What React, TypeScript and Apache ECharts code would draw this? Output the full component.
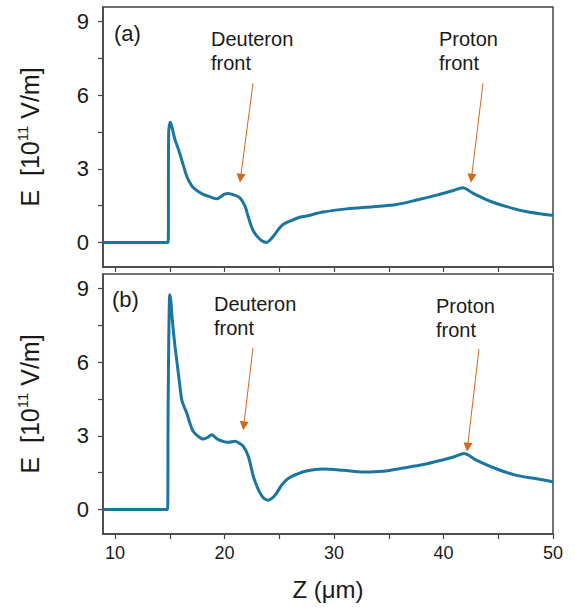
import React, { useEffect, useRef } from "react";
import * as echarts from "echarts";

const zA = [8.9, 14.85, 14.9, 15.05, 15.2, 15.48, 15.75, 16.0, 16.3, 16.55, 16.85, 17.15, 17.6, 18.06, 18.7, 19.28, 19.7, 20.0, 20.35, 20.9, 21.4, 21.87, 22.1, 22.33, 22.6, 22.94, 23.4, 23.85, 24.2, 24.6, 25.0, 25.37, 25.98, 26.74, 27.5, 29.0, 31.16, 33.59, 35.72, 37.55, 39.38, 40.9, 41.75, 42.72, 44.25, 45.77, 47.29, 49.1, 50];
const eA = [0, 0, 4.5, 4.9, 4.7, 4.18, 3.85, 3.5, 3.05, 2.7, 2.42, 2.23, 2.08, 1.96, 1.86, 1.78, 1.88, 1.97, 2.0, 1.93, 1.82, 1.48, 1.15, 0.81, 0.5, 0.27, 0.07, 0.0, 0.12, 0.34, 0.58, 0.74, 0.87, 1.01, 1.08, 1.24, 1.37, 1.46, 1.55, 1.73, 1.93, 2.12, 2.23, 2.0, 1.68, 1.46, 1.28, 1.15, 1.1];

const zB = [8.9, 14.8, 14.85, 15.0, 15.1, 15.18, 15.3, 15.48, 15.78, 16.09, 16.3, 16.55, 16.85, 17.15, 17.6, 18.06, 18.5, 18.83, 19.2, 19.59, 20.35, 20.96, 21.35, 21.72, 22.17, 22.63, 23.0, 23.24, 23.6, 24.0, 24.4, 24.77, 25.2, 25.68, 26.2, 26.74, 27.2, 28.0, 29.0, 30.85, 32.68, 34.5, 36.33, 38.16, 39.99, 41.0, 41.87, 43.03, 44.86, 46.68, 48.5, 50];
const eB = [0, 0, 4.3, 8.75, 8.5, 8.0, 7.4, 6.64, 5.56, 4.47, 4.2, 3.93, 3.5, 3.18, 2.98, 2.87, 2.95, 3.05, 2.92, 2.82, 2.74, 2.78, 2.7, 2.57, 2.17, 1.35, 0.9, 0.68, 0.45, 0.38, 0.48, 0.68, 0.98, 1.22, 1.36, 1.46, 1.54, 1.61, 1.65, 1.6, 1.53, 1.56, 1.69, 1.83, 2.03, 2.15, 2.28, 2.0, 1.65, 1.39, 1.25, 1.13];

const xLabels = [10, 20, 30, 40, 50];
const xTicks = [10, 15, 20, 25, 30, 35, 40, 45, 50];
const yLabels = [0, 3, 6, 9];
const yTicks = [0, 1.5, 3, 4.5, 6, 7.5, 9];

// arrows: [startZ, startE, endZ, endE]
const arrowsA = [
  [22.6, 6.49, 21.46, 2.62],
  [43.61, 6.49, 42.55, 2.62],
];
const arrowsB = [
  [22.6, 6.59, 21.75, 3.41],
  [43.24, 6.54, 42.19, 2.54],
];

const FONT = "'Liberation Sans', Arial, sans-serif";
const LINE = "#1a76a1";
const ARROW = "#d2691e";
const AXIS = "#444";
const TXT = "#1a1a1a";

export default function App() {
  const ref = useRef<HTMLDivElement>(null);
  useEffect(() => {
    if (!ref.current) return;
    const chart = echarts.init(ref.current, undefined, { renderer: "svg" });
    const grids = [
      { left: 103, top: 7, width: 450, height: 260 },
      { left: 103, top: 274, width: 450, height: 260 },
    ];
    const mkX = (i: number, showLabel: boolean) => ({
      type: "value",
      gridIndex: i,
      min: 8.9,
      max: 50,
      axisLine: { show: true, onZero: false, lineStyle: { color: AXIS, width: 1.5 } },
      axisTick: { show: true, inside: false, length: 5, customValues: xTicks, lineStyle: { color: AXIS, width: 1.2 } },
      axisLabel: { show: showLabel, customValues: xLabels, margin: 10, fontSize: 18, color: TXT, fontFamily: FONT },
      splitLine: { show: false },
      name: showLabel ? "Z (\u03bcm)" : "",
      nameLocation: "middle",
      nameGap: 43,
      nameTextStyle: { fontSize: 24, color: TXT, fontFamily: FONT },
    });
    const mkY = (i: number) => ({
      type: "value",
      gridIndex: i,
      min: -1,
      max: 9.6,
      axisLine: { show: true, onZero: false, lineStyle: { color: AXIS, width: 1.5 } },
      axisTick: { show: true, inside: false, length: 5, customValues: yTicks, lineStyle: { color: AXIS, width: 1.2 } },
      axisLabel: { customValues: yLabels, margin: 14, fontSize: 22, color: TXT, fontFamily: FONT },
      splitLine: { show: false },
      name: "{a|E  [10}{s|11}{a| V/m]}",
      nameLocation: "middle",
      nameGap: 58,
      nameRotate: 90,
      nameTextStyle: {
        color: TXT,
        fontFamily: FONT,
        rich: {
          a: { fontSize: 25, lineHeight: 30, color: TXT, fontFamily: FONT },
          s: { fontSize: 15, lineHeight: 15, verticalAlign: "top", color: TXT, fontFamily: FONT },
        },
      },
    });
    const mkArrows = (arr: number[][]) => ({
      silent: true,
      symbol: ["none", "triangle"],
      symbolSize: [9, 9],
      label: { show: false },
      emphasis: { disabled: true },
      lineStyle: { color: ARROW, width: 1, type: "solid" },
      itemStyle: { color: ARROW },
      data: arr.map((a) => [{ coord: [a[0], a[1]] }, { coord: [a[2], a[3]] }]),
    });
    const textStyle = (text: string, x: number, y: number, size = 20) => ({
      type: "text",
      left: x,
      top: y,
      silent: true,
      style: { text, fontSize: size, lineHeight: 24, fill: TXT, fontFamily: FONT },
    });
    chart.setOption({
      animation: false,
      backgroundColor: "#fff",
      grid: grids.map((g) => ({ ...g, show: true, borderColor: AXIS, borderWidth: 1.5, backgroundColor: "transparent" })),
      xAxis: [mkX(0, false), mkX(1, true)],
      yAxis: [mkY(0), mkY(1)],
      series: [
        {
          type: "line",
          xAxisIndex: 0,
          yAxisIndex: 0,
          data: zA.map((z, i) => [z, eA[i]]),
          showSymbol: false,
          smooth: 0.3,
          lineStyle: { color: LINE, width: 3 },
          itemStyle: { color: LINE },
          markLine: mkArrows(arrowsA),
        },
        {
          type: "line",
          xAxisIndex: 1,
          yAxisIndex: 1,
          data: zB.map((z, i) => [z, eB[i]]),
          showSymbol: false,
          smooth: 0.3,
          lineStyle: { color: LINE, width: 3 },
          itemStyle: { color: LINE },
          markLine: mkArrows(arrowsB),
        },
      ],
      graphic: [
        textStyle("(a)", 114, 21, 22),
        textStyle("(b)", 112, 287, 22),
        textStyle("Deuteron\nfront", 211, 27),
        textStyle("Proton\nfront", 439, 27),
        textStyle("Deuteron\nfront", 214, 292),
        textStyle("Proton\nfront", 436, 294),
      ],
    });
    return () => chart.dispose();
  }, []);
  return <div ref={ref} style={{ position: "fixed", left: 0, top: 0, width: 575, height: 610 }} />;
}
